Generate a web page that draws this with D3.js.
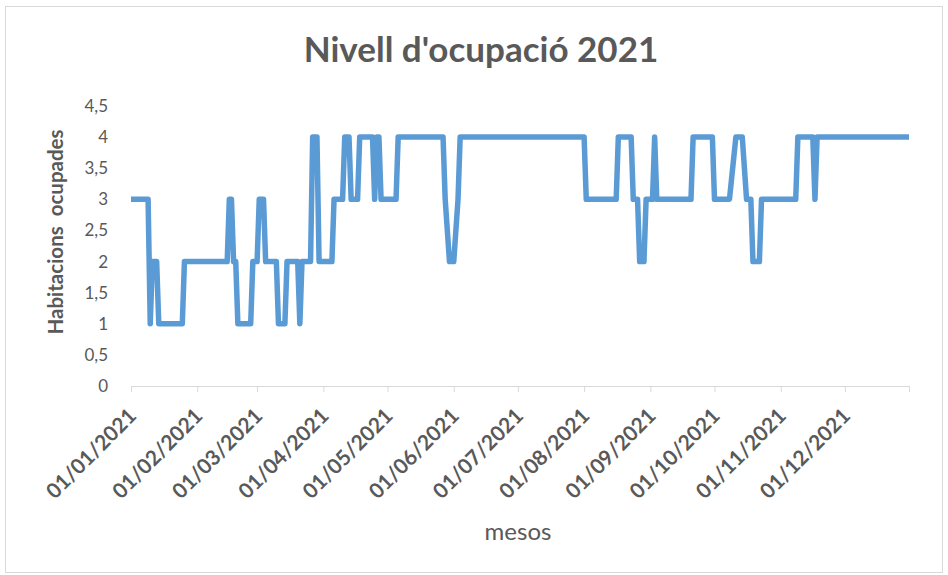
<!DOCTYPE html>
<html><head><meta charset="utf-8">
<script src="https://cdn.jsdelivr.net/npm/d3@7"></script>
<style>body{margin:0;background:#fff}svg{display:block}</style>
</head><body>
<svg id="c" width="948" height="575"></svg>
<script>
// Change points of the occupancy series (date, rooms occupied)
const dates = ["2021-01-01","2021-01-09","2021-01-10","2021-01-11","2021-01-13","2021-01-14","2021-01-25","2021-01-26","2021-02-15","2021-02-16","2021-02-17","2021-02-18","2021-02-19","2021-02-20","2021-02-26","2021-02-27","2021-03-01","2021-03-02","2021-03-04","2021-03-05","2021-03-10","2021-03-11","2021-03-14","2021-03-15","2021-03-20","2021-03-21","2021-03-22","2021-03-26","2021-03-27","2021-03-29","2021-03-30","2021-04-05","2021-04-06","2021-04-10","2021-04-11","2021-04-13","2021-04-14","2021-04-17","2021-04-18","2021-04-24","2021-04-25","2021-04-26","2021-04-27","2021-04-28","2021-05-05","2021-05-06","2021-05-27","2021-05-28","2021-05-30","2021-06-01","2021-06-03","2021-06-04","2021-08-01","2021-08-02","2021-08-16","2021-08-17","2021-08-23","2021-08-24","2021-08-26","2021-08-27","2021-08-29","2021-08-30","2021-09-02","2021-09-03","2021-09-04","2021-09-20","2021-09-21","2021-09-30","2021-10-01","2021-10-08","2021-10-11","2021-10-14","2021-10-16","2021-10-18","2021-10-19","2021-10-22","2021-10-23","2021-11-08","2021-11-09","2021-11-16","2021-11-17","2021-11-18","2021-12-31"];
const values = [3,3,1,2,2,1,1,2,2,3,3,2,2,1,1,2,2,3,3,2,2,1,1,2,2,1,2,2,4,4,2,2,3,3,4,4,3,3,4,4,3,4,4,3,3,4,4,3,2,2,3,4,4,3,3,4,4,3,3,2,2,3,3,4,3,3,4,4,3,3,4,4,3,3,2,2,3,3,4,4,3,4,4];
const monthTicks = ["2021-01-01","2021-02-01","2021-03-01","2021-04-01","2021-05-01","2021-06-01","2021-07-01","2021-08-01","2021-09-01","2021-10-01","2021-11-01","2021-12-01"];
const yTicks = [0,0.5,1,1.5,2,2.5,3,3.5,4,4.5];
const title = "Nivell d'ocupació 2021";
const yTitle = "Habitacions  ocupades";
const xTitle = "mesos";

const parse = d3.timeParse("%Y-%m-%d");
const data = dates.map((d,i)=>({date:parse(d), value:values[i]}));
const domainStart = parse("2021-01-01"), domainEnd = parse("2021-12-31");

const svg = d3.select("#c");
const font = "Lato, 'Open Sans', sans-serif";
const grey = "#595959";

svg.append("rect").attr("x",5.5).attr("y",6.5).attr("width",937).attr("height",566)
  .attr("fill","#fff").attr("stroke","#d9d9d9").attr("stroke-width",1);

const x = d3.scaleTime().domain([domainStart, domainEnd]).range([131, 909]);
const y = d3.scaleLinear().domain([0,4.5]).range([386, 106]);

// title
svg.append("text").attr("x",481).attr("y",62).attr("text-anchor","middle")
  .attr("font-family",font).attr("font-size",35).attr("font-weight","bold").attr("fill",grey)
  .text(title);

// y axis
const yAxis = svg.append("g").attr("transform","translate(131,0)")
  .call(d3.axisLeft(y).tickValues(yTicks).tickSize(0).tickPadding(23)
    .tickFormat(d=>d3.format(".1~f")(d).replace(".",",")));
yAxis.select(".domain").remove();
yAxis.selectAll("text").attr("font-family",font).attr("font-size",17).attr("fill",grey);

// x axis
const xAxis = svg.append("g").attr("transform","translate(0,386)")
  .call(d3.axisBottom(x).tickValues(monthTicks.map(parse).concat([domainEnd])).tickSize(6)
    .tickFormat(d=> +d===+domainEnd ? "" : d3.timeFormat("%d/%m/%Y")(d)));
xAxis.select(".domain").attr("stroke","#d9d9d9");
xAxis.selectAll(".tick line").attr("stroke","#d9d9d9");
xAxis.selectAll("text").attr("font-family",font).attr("font-size",21).attr("font-weight","bold")
  .attr("fill",grey).attr("text-anchor","end")
  .attr("transform","translate(1,26) rotate(-45)").attr("dy","0.35em").attr("y",0).attr("x",0);

// line
const line = d3.line().x(d=>x(d.date)).y(d=>y(d.value));
svg.append("path").datum(data).attr("d",line).attr("fill","none")
  .attr("stroke","#5b9bd5").attr("stroke-width",5.5).attr("stroke-linejoin","round");

// axis titles
svg.append("text").attr("transform","translate(63,232) rotate(-90)").attr("text-anchor","middle")
  .attr("font-family",font).attr("font-size",20.5).attr("font-weight","bold").attr("fill",grey)
  .style("white-space","pre").text(yTitle);
svg.append("text").attr("x",518).attr("y",540).attr("text-anchor","middle")
  .attr("font-family",font).attr("font-size",24).attr("fill",grey).text(xTitle);
</script>
</body></html>
